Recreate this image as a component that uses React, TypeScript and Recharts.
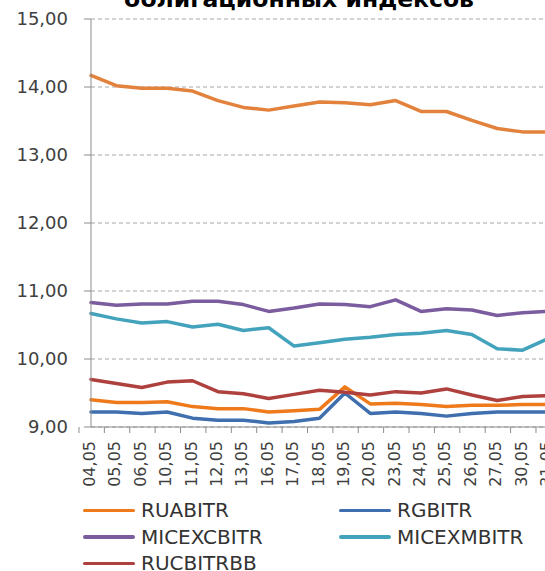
import React from 'react';
import { LineChart, Line, XAxis, YAxis, CartesianGrid, Legend } from 'recharts';

const categories = ['04,05','05,05','06,05','10,05','11,05','12,05','13,05','16,05','17,05','18,05','19,05','20,05','23,05','24,05','25,05','26,05','27,05','30,05','31,05'];

const topSeries = [14.17,14.02,13.98,13.98,13.94,13.80,13.70,13.66,13.72,13.78,13.77,13.74,13.80,13.64,13.64,13.51,13.39,13.34,13.34];
const ruabitr = [9.40,9.36,9.36,9.37,9.30,9.27,9.27,9.22,9.24,9.26,9.59,9.34,9.35,9.33,9.30,9.32,9.32,9.33,9.33];
const rgbitr = [9.22,9.22,9.20,9.22,9.13,9.10,9.10,9.06,9.08,9.13,9.50,9.20,9.22,9.20,9.16,9.20,9.22,9.22,9.22];
const micexcbitr = [10.83,10.79,10.81,10.81,10.85,10.85,10.80,10.70,10.75,10.81,10.80,10.77,10.87,10.70,10.74,10.72,10.64,10.68,10.70];
const micexmbitr = [10.67,10.59,10.53,10.55,10.47,10.51,10.42,10.46,10.19,10.24,10.29,10.32,10.36,10.38,10.42,10.36,10.15,10.13,10.30];
const rucbitrbb = [9.70,9.64,9.58,9.66,9.68,9.52,9.49,9.42,9.48,9.54,9.51,9.47,9.52,9.50,9.56,9.47,9.39,9.45,9.46];

const yTicks = [9, 10, 11, 12, 13, 14, 15];
const titleText = 'облигационных индексов';

const series = [
  { key: 'top', name: 'Индекс', values: topSeries, color: '#E2823C', inLegend: false },
  { key: 'RUABITR', name: 'RUABITR', values: ruabitr, color: '#EE7A1C', inLegend: true },
  { key: 'RGBITR', name: 'RGBITR', values: rgbitr, color: '#3F6FAE', inLegend: true },
  { key: 'MICEXCBITR', name: 'MICEXCBITR', values: micexcbitr, color: '#7B5C9E', inLegend: true },
  { key: 'MICEXMBITR', name: 'MICEXMBITR', values: micexmbitr, color: '#44A3BC', inLegend: true },
  { key: 'RUCBITRBB', name: 'RUCBITRBB', values: rucbitrbb, color: '#AE413E', inLegend: true },
];

const data = categories.map((c, i) => {
  const row: Record<string, any> = { date: c };
  series.forEach((s) => { row[s.key] = s.values[i]; });
  return row;
});

const FONT = '"DejaVu Sans", Verdana, sans-serif';
const CHART_W = 552;
const CHART_H = 571;
const Y_AXIS_W = 91;
const MARGIN = { top: 19, right: 4, left: 0, bottom: 0 };
const PLOT_W = CHART_W - MARGIN.left - MARGIN.right - Y_AXIS_W;
const BAND = PLOT_W / categories.length;

const XTick = (props: any) => {
  const { x, y, payload } = props;
  return (
    <g transform={`translate(${x},${y})`}>
      <line x1={-BAND / 2} x2={-BAND / 2} y1={0} y2={6} stroke="#8C8C8C" strokeWidth={1} />
      <text
        transform="rotate(-90)"
        x={-14}
        y={4}
        textAnchor="end"
        fontFamily={FONT}
        fontSize={16}
        fill="#404040"
      >
        {payload.value}
      </text>
    </g>
  );
};

const LegendContent = () => {
  const items = series.filter((s) => s.inLegend);
  return (
    <div style={{ position: 'relative', width: CHART_W, height: 74 }}>
      {items.map((s, i) => {
        const row = Math.floor(i / 2);
        const col = i % 2;
        return (
          <div
            key={s.key}
            style={{
              position: 'absolute',
              left: col === 0 ? 83 : 339,
              top: row * 26.5,
              height: 26.5,
              display: 'flex',
              alignItems: 'center',
              whiteSpace: 'nowrap',
            }}
          >
            <div style={{ width: 52, height: 3.5, background: s.color, borderRadius: 2 }} />
            <span style={{ marginLeft: 6, fontFamily: FONT, fontSize: 20, color: '#333333', lineHeight: '26px' }}>
              {s.name}
            </span>
          </div>
        );
      })}
    </div>
  );
};

export default function App() {
  return (
    <div style={{ position: 'absolute', left: 0, top: 0, width: 545, height: 571, overflow: 'hidden', background: '#ffffff' }}>
      <LineChart width={CHART_W} height={CHART_H} data={data} margin={MARGIN}>
        <CartesianGrid horizontal={true} vertical={false} stroke="#A6A6A6" strokeDasharray="4 3" />
        <XAxis
          dataKey="date"
          interval={0}
          height={70}
          tickSize={0}
          tickMargin={0}
          tick={<XTick />}
          axisLine={{ stroke: '#8C8C8C', strokeWidth: 1 }}
          tickLine={false}
        />
        <YAxis
          width={Y_AXIS_W}
          domain={[9, 15]}
          ticks={yTicks}
          interval={0}
          tickSize={7}
          tickMargin={16}
          tickFormatter={(v: number) => v.toFixed(2).replace('.', ',')}
          tick={{ fontFamily: FONT, fontSize: 18, fill: '#404040' }}
          axisLine={{ stroke: '#8C8C8C', strokeWidth: 1 }}
          tickLine={{ stroke: '#8C8C8C', strokeWidth: 1 }}
        />
        <Legend
          verticalAlign="bottom"
          content={<LegendContent />}
          wrapperStyle={{ position: 'absolute', left: 0, bottom: 0, width: CHART_W, height: 74 }}
        />
        {series.map((s) => (
          <Line
            key={s.key}
            type="linear"
            dataKey={s.key}
            name={s.name}
            stroke={s.color}
            strokeWidth={3.5}
            strokeLinejoin="round"
            strokeLinecap="round"
            dot={false}
            activeDot={false}
            isAnimationActive={false}
            legendType={s.inLegend ? 'line' : 'none'}
          />
        ))}
      </LineChart>
      <svg width={545} height={20} style={{ position: 'absolute', left: 0, top: 0 }}>
        <text x={299} y={7} textAnchor="middle" fontFamily={FONT} fontSize={23.5} fontWeight="bold" fill="#000000">
          {titleText}
        </text>
      </svg>
    </div>
  );
}
